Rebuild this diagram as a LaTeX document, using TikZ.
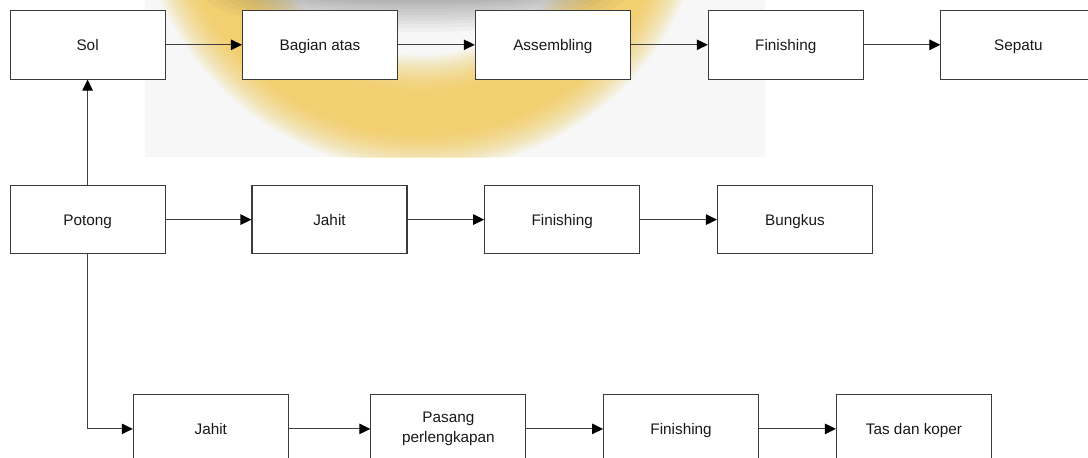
\documentclass[tikz,border=0pt]{standalone}
\usepackage{fontspec}
\setmainfont{Liberation Sans}
\usetikzlibrary{arrows.meta}

\definecolor{boxline}{HTML}{3A3A3A}
\definecolor{wireline}{HTML}{404040}
\definecolor{wmgold}{RGB}{242,196,60}
\definecolor{wmshadow}{RGB}{80,80,80}

\tikzset{
  procbox/.style={draw=boxline, line width=1.1pt, fill=white,
    minimum width=155pt, minimum height=68.5pt, inner sep=0pt,
    align=center, font=\fontsize{15.3}{20}\selectfont, text=black!90,
    text height=10.9pt, text depth=0pt},
  twoline/.style={procbox, text height=, text depth=},
  flow/.style={draw=wireline, line width=1.1pt,
    -{Triangle[length=11pt,width=10.5pt,color=black]}},
}

\begin{document}
\begin{tikzpicture}[x=1pt,y=-1pt]
\path[use as bounding box] (0,0) rectangle (1088,458);
\begin{scope}
\clip (0,0) rectangle (1088,458);

% faint logo in the background
\begin{scope}
  \clip (145,0) rectangle (765,157);
  \fill[black!3] (145,0) rectangle (765,157);
  \foreach \w in {116,112,...,44}
    \draw[draw=wmgold, line width=\w pt, opacity=0.06] (422,-115) circle[radius=228];
  \foreach \rx/\ry in {210/36,200/32,190/28,180/25,170/22,160/19,150/16,140/13,130/10,120/8,110/6}
    \fill[wmshadow, opacity=0.045] (415,-4) ellipse[x radius=\rx, y radius=\ry];
\end{scope}

% shoe line
\node[procbox] (sol)    at (87.6,44.8)   {Sol};
\node[procbox] (atas)   at (320,44.8)    {Bagian atas};
\node[procbox] (asm)    at (552.8,44.8)  {Assembling};
\node[procbox] (fin1)   at (785.8,44.8)  {Finishing};
\node[procbox] (sepatu) at (1018.4,44.8) {Sepatu};

% cutting and wrapping line
\node[procbox] (potong)  at (87.6,219.6)  {Potong};
\node[procbox] (jahit1)  at (329.5,219.6) {Jahit};
\node[procbox] (fin2)    at (562.2,219.6) {Finishing};
\node[procbox] (bungkus) at (795,219.6)   {Bungkus};

% bag and suitcase line
\node[procbox] (jahit2) at (210.8,428.9) {Jahit};
\node[twoline] (pasang) at (448.4,428.9) {Pasang\\perlengkapan};
\node[procbox] (fin3)   at (681.1,428.9) {Finishing};
\node[procbox] (tas)    at (914,428.9)   {Tas dan koper};

\draw[flow] (sol) -- (atas);
\draw[flow] (atas) -- (asm);
\draw[flow] (asm) -- (fin1);
\draw[flow] (fin1) -- (sepatu);

\draw[flow] (potong) -- (sol);
\draw[flow] (potong) -- (jahit1);
\draw[flow] (jahit1) -- (fin2);
\draw[flow] (fin2) -- (bungkus);

\draw[flow] (potong.south) |- (jahit2.west);
\draw[flow] (jahit2) -- (pasang);
\draw[flow] (pasang) -- (fin3);
\draw[flow] (fin3) -- (tas);
\end{scope}
\end{tikzpicture}
\end{document}
